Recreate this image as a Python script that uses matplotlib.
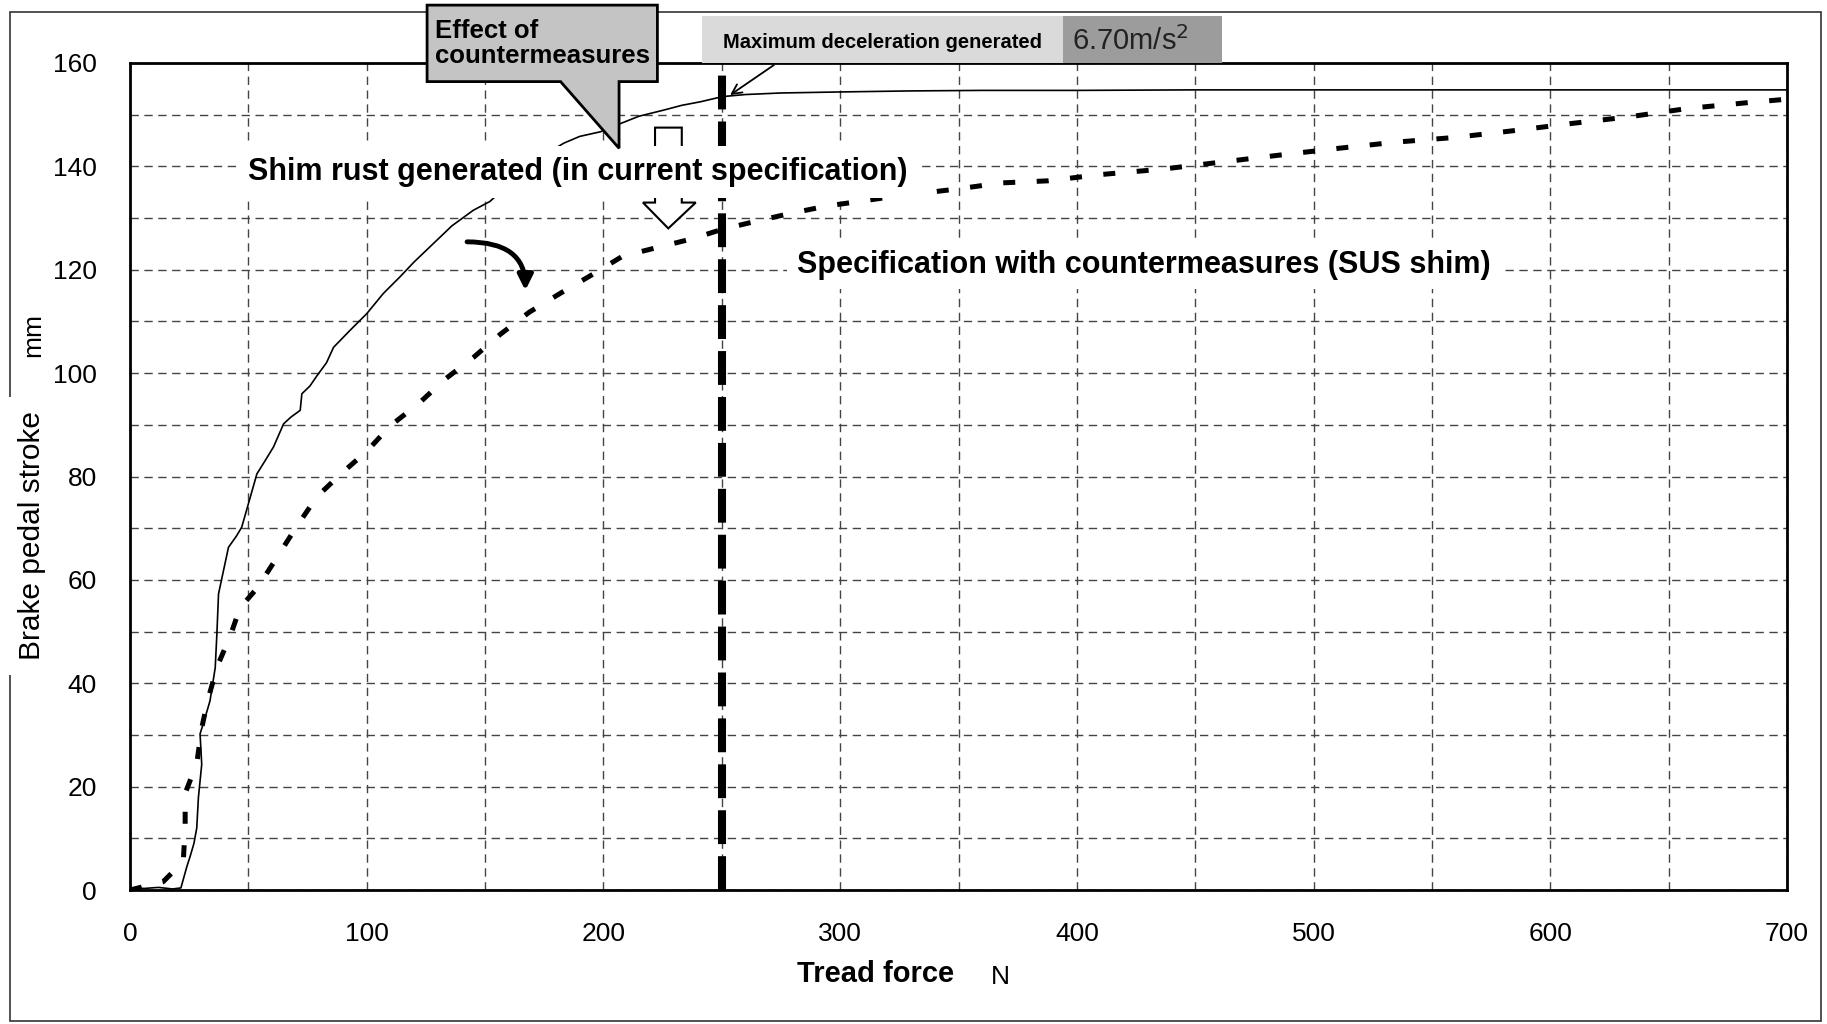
import matplotlib
matplotlib.use('Agg')
import matplotlib.pyplot as plt
from matplotlib.patches import Polygon, Rectangle

# Brake pedal stroke vs tread force
force_current = [0, 6, 12, 18, 21.5, 24, 25.4, 27, 28.2, 28.9, 30.3, 29.6, 31.5,
                 33.8, 36, 36.7, 37.4, 39.5, 41.6, 45, 47.2, 50, 53.6, 57,
                 60.6, 64.9, 68, 71.9, 72.6, 76, 79, 83, 86, 93, 100, 107, 114,
                 120, 128, 136, 145, 152, 160, 168, 176, 183.3, 190, 198.8,
                 207.3, 215, 225.6, 233, 241, 250.3, 260, 275, 300, 330, 360,
                 400, 450, 500, 550, 600, 650, 700]
stroke_current = [0.4, 0.3, 0.5, 0.2, 0.4, 4.5, 6.5, 9, 12, 17.9, 24.3, 30.2, 33,
                  36.6, 43, 49.5, 57.3, 61.8, 66.3, 68.5, 70.2, 74.7, 80.5, 83,
                  85.7, 90.2, 91.5, 92.8, 96, 97.5, 99.5, 102, 105, 108.3, 111.5,
                  115.4, 118.6, 121.5, 125, 128.5, 131.5, 133.2, 136.5, 139.5,
                  142.5, 144.5, 145.8, 146.7, 148.3, 149.7, 150.9, 151.8, 152.5,
                  153.5, 153.9, 154.2, 154.4, 154.6, 154.7, 154.7, 154.8, 154.8,
                  154.8, 154.8, 154.8, 154.8]

force_sus = [0, 14, 22.5, 23.3, 23.3, 28.2, 30.3, 32.7, 36.9, 42.3, 46.5, 53.9,
             61.6, 70.5, 79, 89.3, 100.1, 109.7, 122.4, 133, 145, 156.4, 168.7,
             182, 195.8, 208, 221.8, 237.6, 250, 264.6, 279, 294, 320, 350.7,
             368, 387.6, 409.7, 436.8, 466, 486, 510.6, 535, 559.8, 584.4, 609,
             633.5, 658, 682.7, 700]
stroke_sus = [0, 1.6, 5.5, 12, 18.7, 24.5, 31.3, 36.5, 43.3, 49.1, 54.6, 58.5,
              64, 70.4, 76.1, 80.6, 84.9, 89.7, 94.3, 98.8, 103, 107.5, 111.8,
              115.5, 119.2, 122.6, 124.2, 126, 127.8, 129.4, 130.9, 132.3, 134,
              135.7, 136.8, 137.2, 138.4, 139.5, 141.1, 142.2, 143.5, 144.7,
              145.6, 146.9, 148.3, 149.6, 151.2, 152.3, 153]

max_decel_force = 250  # N, tread force at maximum deceleration
x_major = list(range(0, 701, 100))
x_minor = list(range(50, 701, 100))
y_major = list(range(0, 161, 20))
y_minor = list(range(10, 161, 20))

W, H = 1827, 1024
plt.rcParams['font.family'] = ['Liberation Sans', 'DejaVu Sans']

fig = plt.figure(figsize=(W / 100, H / 100), dpi=100)
ax = fig.add_axes([130 / W, (H - 890) / H, (1787 - 130) / W, (890 - 63) / H])
ax.set_zorder(2)

# outer frame of the scanned figure
frame = Rectangle((10 / W, (H - 1021) / H), (1821 - 10) / W, (1021 - 12) / H,
                  transform=fig.transFigure, fill=False, edgecolor='#333333',
                  linewidth=1.2, zorder=1)
fig.add_artist(frame)

ax.set_xlim(0, 700)
ax.set_ylim(0, 160)
ax.set_xticks(x_major)
ax.set_xticks(x_minor, minor=True)
ax.set_yticks(y_major)
ax.set_yticks(y_minor, minor=True)
ax.tick_params(which='both', length=0, labelsize=19)
ax.tick_params(axis='x', pad=23)
ax.tick_params(axis='y', pad=24)
ax.grid(which='both', color='#444444', linestyle=(0, (6, 4)), linewidth=1.0)
for side in ax.spines.values():
    side.set_linewidth(2.0)
    side.set_color('black')

# curves
ax.plot(force_current, stroke_current, color='black', linewidth=1.2, zorder=3)
ax.plot(force_sus, stroke_sus, color='black', linewidth=3.6,
        linestyle=(0, (2.4, 4.3)), zorder=3)
ax.axvline(max_decel_force, color='black', linewidth=5.8,
           linestyle=(0, (4.2, 1.5)), zorder=4)

# hollow block arrow between the curves
block = Polygon([(221.8, 147.5), (233.1, 147.5), (233.1, 133), (239, 133),
                 (227.4, 128), (216.7, 133), (221.8, 133)],
                closed=True, facecolor='white', edgecolor='black',
                linewidth=1.5, zorder=5)
ax.add_patch(block)

# curved arrow from current to countermeasure curve
ax.annotate('', xy=(167, 116), xytext=(142.4, 125.4),
            arrowprops=dict(arrowstyle='-|>,head_width=0.45,head_length=0.9',
                            lw=3.5, color='black', shrinkA=0, shrinkB=0,
                            connectionstyle='angle3,angleA=0,angleB=90'),
            zorder=5)

ax.text(50, 138.9, 'Shim rust generated (in current specification)',
        fontsize=22, fontweight='bold', ha='left', va='center', zorder=6,
        bbox=dict(facecolor='white', edgecolor='none', pad=8))
ax.text(281.6, 121, 'Specification with countermeasures (SUS shim)',
        fontsize=22, fontweight='bold', ha='left', va='center', zorder=6,
        bbox=dict(facecolor='white', edgecolor='none', pad=7))

# "Effect of countermeasures" callout
callout = Polygon([(125.5, 171.2), (222.8, 171.2), (222.8, 156.4),
                   (206.6, 156.4), (206.6, 143.5), (181.9, 156.4),
                   (125.5, 156.4)],
                  closed=True, facecolor='#c4c4c4', edgecolor='black',
                  linewidth=2, zorder=7, clip_on=False)
ax.add_patch(callout)
ax.text(129, 163.8, 'Effect of\ncountermeasures', fontsize=18.5,
        fontweight='bold', ha='left', va='center', linespacing=1.05,
        zorder=8, clip_on=False)

# maximum deceleration label
ax.add_patch(Rectangle((241.5, 160), 394.2 - 241.5, 9.0, facecolor='#dadada',
                       edgecolor='none', zorder=7, clip_on=False))
ax.add_patch(Rectangle((394.2, 160), 461.5 - 394.2, 9.0, facecolor='#9c9c9c',
                       edgecolor='none', zorder=7, clip_on=False))
ax.text(250.7, 163.9, 'Maximum deceleration generated', fontsize=14.5,
        fontweight='bold', ha='left', va='center', zorder=8, clip_on=False)
ax.text(398, 164.2, '6.70m/s$^2$', fontsize=21, ha='left', va='center',
        color='#222222', zorder=8, clip_on=False)
ax.annotate('', xy=(253.5, 153.8), xytext=(272, 159.6),
            arrowprops=dict(arrowstyle='->,head_width=0.35,head_length=0.7',
                            lw=1.3, color='black', shrinkA=0, shrinkB=0),
            annotation_clip=False, zorder=8)

# axis titles
ax.text(876 / W, 1 - 974 / H, 'Tread force', transform=fig.transFigure,
        fontsize=21, fontweight='bold', ha='center', va='center')
ax.text(1000 / W, 1 - 977 / H, 'N', transform=fig.transFigure,
        fontsize=19, ha='center', va='center')
ax.text(31.7 / W, 1 - 536 / H, 'Brake pedal stroke', transform=fig.transFigure,
        fontsize=21.5, rotation=90, ha='center', va='center',
        bbox=dict(facecolor='white', edgecolor='none', pad=10))
ax.text(33 / W, 1 - 335 / H, 'mm', transform=fig.transFigure,
        fontsize=19, rotation=90, ha='center', va='center')

fig.savefig('out.png', dpi=100, facecolor='white')
